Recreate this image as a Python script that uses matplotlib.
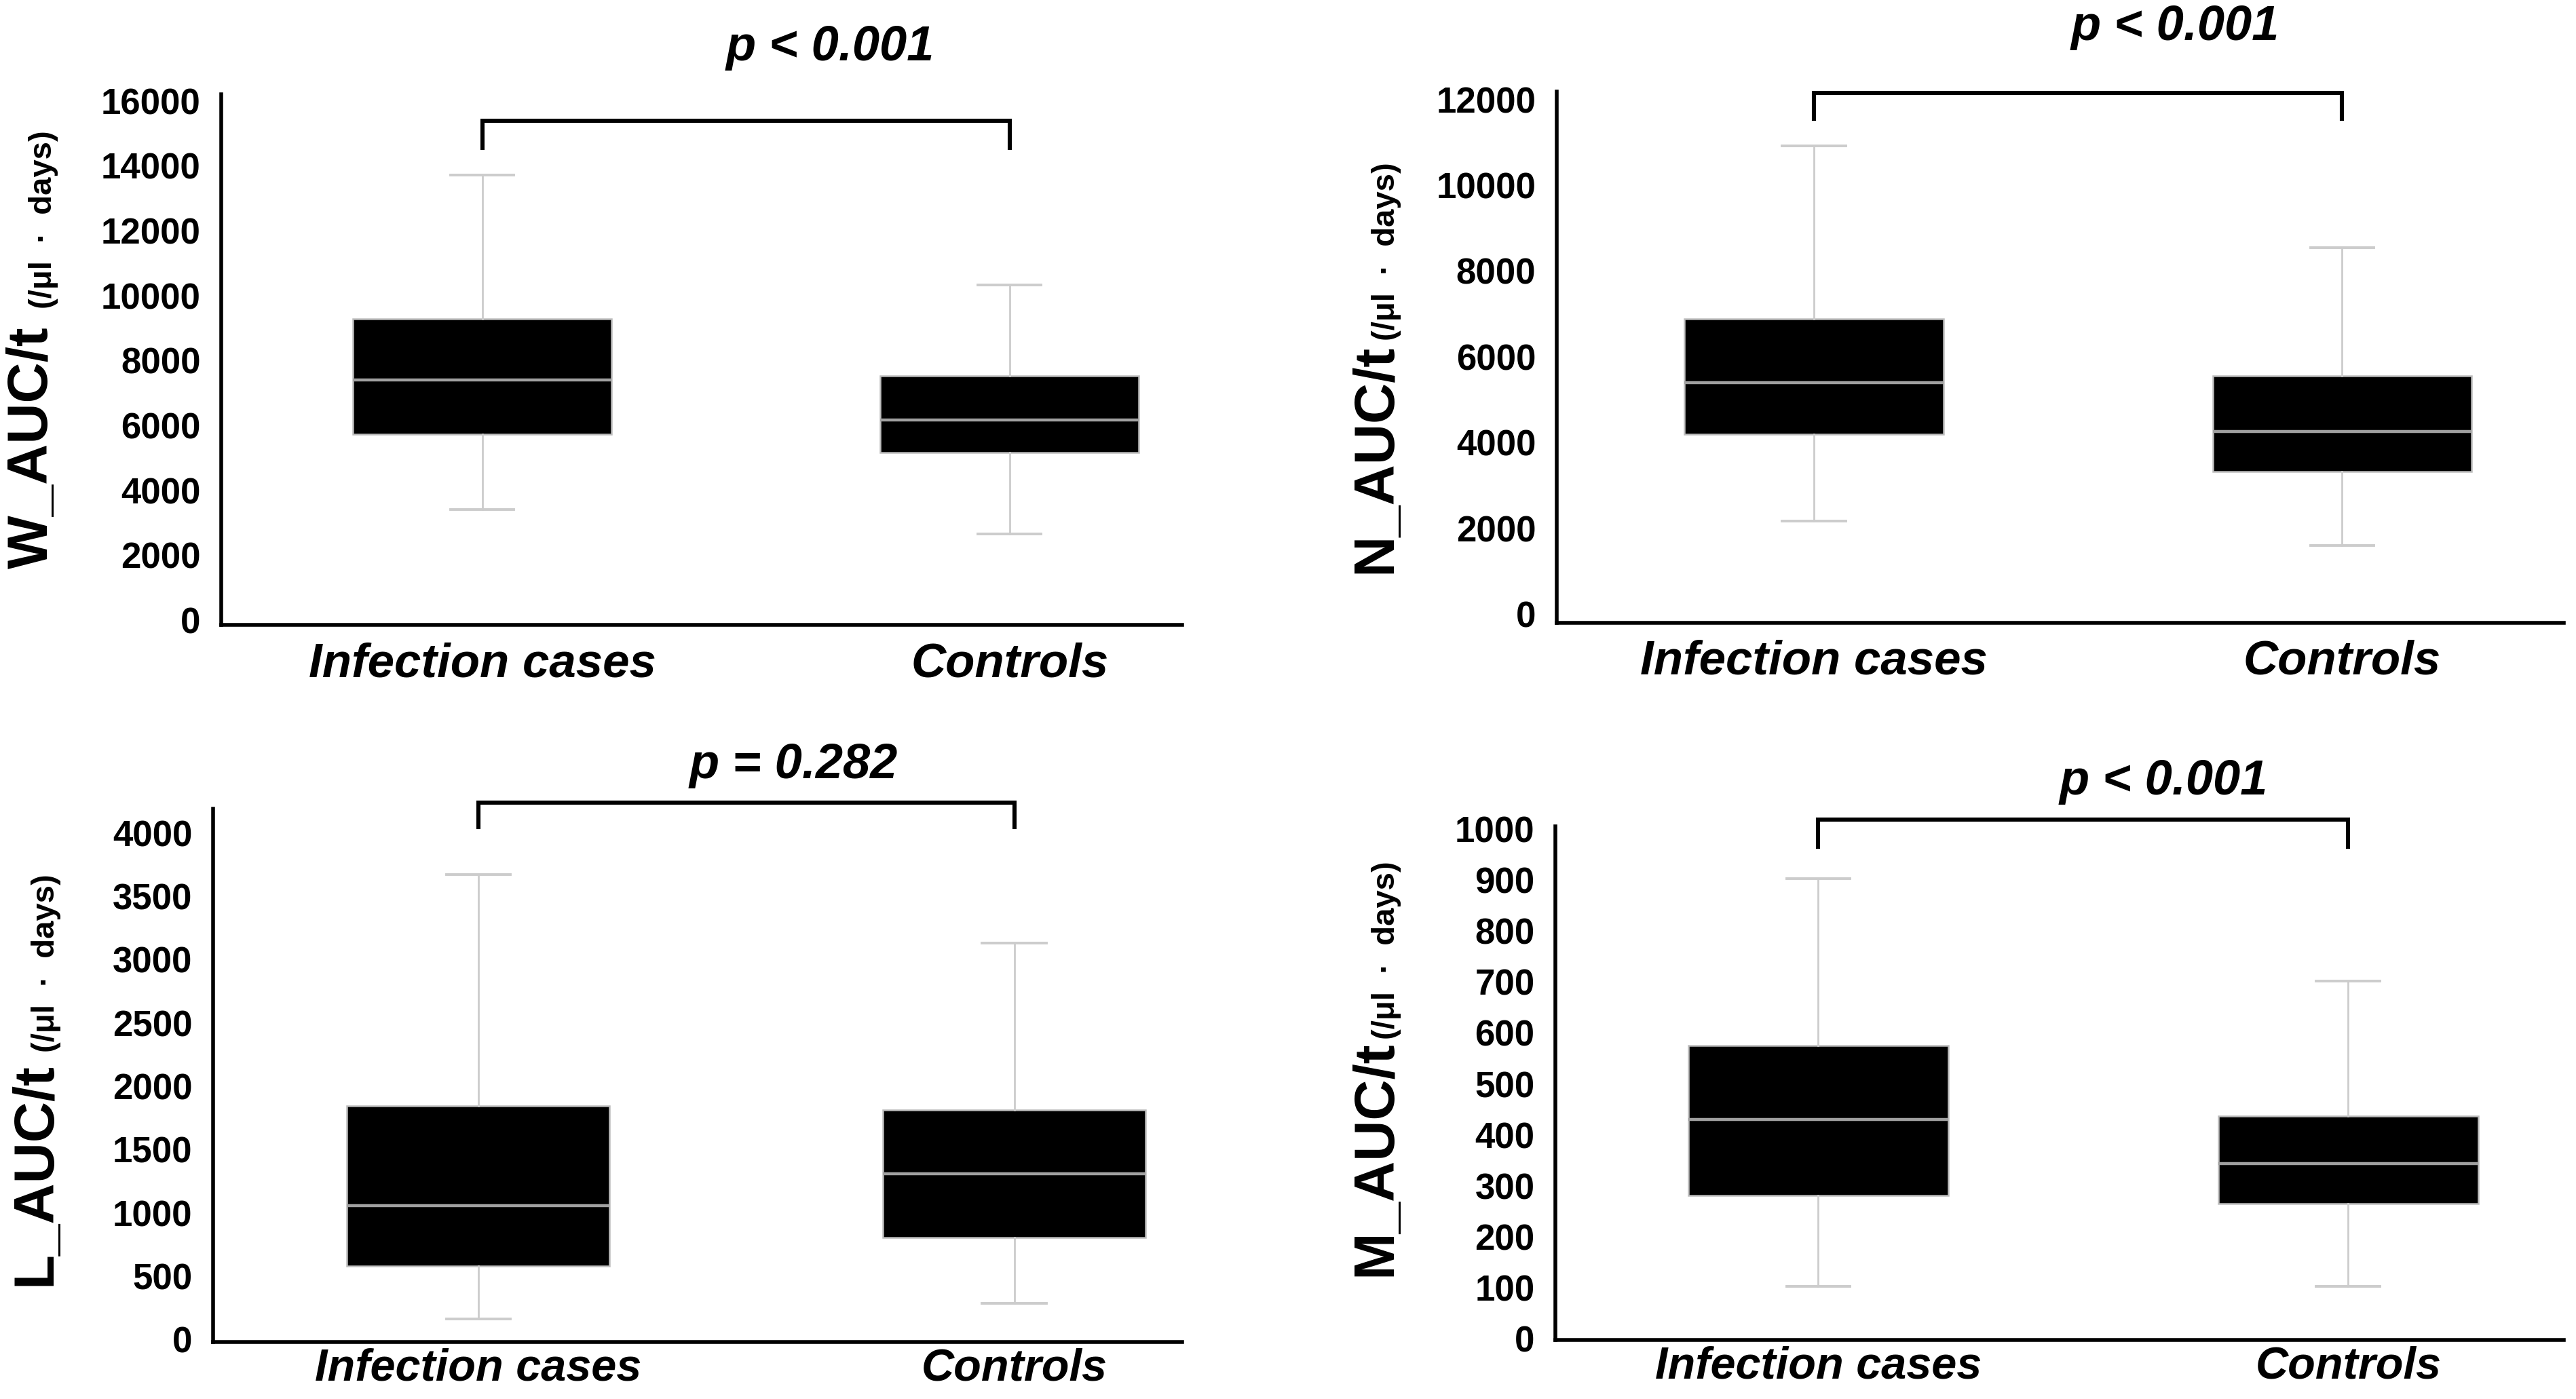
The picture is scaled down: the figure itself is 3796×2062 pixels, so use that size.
import matplotlib
matplotlib.use("Agg")
import matplotlib.pyplot as plt
import numpy as np

# ---------------- data ----------------
groups = ["Infection cases", "Controls"]

# [whislo, q1, median, q3, whishi]
W_inf = [3400, 5720, 7400, 9280, 13720]
W_ctl = [2650, 5170, 6170, 7520, 10330]
N_inf = [2160, 4190, 5390, 6890, 10920]
N_ctl = [1590, 3330, 4250, 5550, 8550]
L_inf = [165, 578, 1058, 1846, 3670]
L_ctl = [287, 806, 1310, 1814, 3128]
M_inf = [103, 281, 430, 575, 903]
M_ctl = [103, 265, 344, 437, 702]

W_ticks = list(range(0, 16001, 2000))
N_ticks = list(range(0, 12001, 2000))
L_ticks = list(range(0, 4001, 500))
M_ticks = list(range(0, 1001, 100))

p_labels = {"W": "p < 0.001", "N": "p < 0.001", "L": "p = 0.282", "M": "p < 0.001"}
# bracket [top, ends]
W_bracket = [15380, 14550]
N_bracket = [12150, 11550]
L_bracket = [4240, 4045]
M_bracket = [1018, 965]

# ---------------- layout ----------------
FW, FH = 3796, 2062
DPI = 200
fig = plt.figure(figsize=(FW / DPI, FH / DPI), dpi=DPI)
plt.rcParams['font.family'] = ['Liberation Sans', 'DejaVu Sans']


def px(x, y):
    return x / FW, 1 - y / FH


panels = [
    dict(key="W", name="W_AUC/t", inf=W_inf, ctl=W_ctl, ticks=W_ticks, br=W_bracket,
         rect=(0.0859, 0.5533, 0.4589 - 0.0859, 0.9326 - 0.5533),
         ylim=(-150, 16200), xlim=(0.505, 2.327), ptext=(1.66, 17240),
         lab=(70, 838), unit=(76, 455), xpad=9, xfs=25.5),
    dict(key="N", name="N_AUC/t", inf=N_inf, ctl=N_ctl, ticks=N_ticks, br=N_bracket,
         rect=(0.6043, 0.555, 0.9953 - 0.6043, 0.9344 - 0.555),
         ylim=(-200, 12180), xlim=(0.513, 2.42), ptext=(1.684, 13380),
         lab=(2049, 845), unit=(2055, 502), xpad=9, xfs=25.5),
    dict(key="L", name="L_AUC/t", inf=L_inf, ctl=L_ctl, ticks=L_ticks, br=L_bracket,
         rect=(0.0827, 0.0407, 0.4589 - 0.0827, 0.4219 - 0.0407),
         ylim=(-20, 4190), xlim=(0.505, 2.313), ptext=(1.588, 4433),
         lab=(74, 1895), unit=(80, 1551), xpad=3, xfs=24),
    dict(key="M", name="M_AUC/t", inf=M_inf, ctl=M_ctl, ticks=M_ticks, br=M_bracket,
         rect=(0.6038, 0.0422, 0.9953 - 0.6038, 0.4093 - 0.0422),
         ylim=(-2, 1005), xlim=(0.504, 2.407), ptext=(1.651, 1068),
         lab=(2049, 1881), unit=(2055, 1532), xpad=3, xfs=24),
]

for p in panels:
    ax = fig.add_axes(p["rect"])
    stats = []
    for lab, v in zip(groups, [p["inf"], p["ctl"]]):
        stats.append(dict(label=lab, whislo=v[0], q1=v[1], med=v[2], q3=v[3], whishi=v[4], fliers=[]))
    ax.bxp(stats, positions=[1, 2], widths=0.49, capwidths=0.12, patch_artist=True,
           showfliers=False,
           boxprops=dict(facecolor="black", edgecolor="#bdbdbd", linewidth=0.9),
           medianprops=dict(color="#a0a0a0", linewidth=1.6),
           whiskerprops=dict(color="#cccccc", linewidth=1.0),
           capprops=dict(color="#cccccc", linewidth=1.4))
    ax.set_xlim(*p["xlim"])
    ax.set_ylim(*p["ylim"])
    ax.set_yticks(p["ticks"])
    ax.set_yticklabels([str(t) for t in p["ticks"]])
    for s in ["top", "right"]:
        ax.spines[s].set_visible(False)
    for s in ["left", "bottom"]:
        ax.spines[s].set_linewidth(2.0)
        ax.spines[s].set_color("black")
    ax.tick_params(axis="y", length=0, pad=11, labelsize=19)
    ax.tick_params(axis="x", length=0, pad=p["xpad"], labelsize=p["xfs"])
    for t in ax.get_yticklabels():
        t.set_fontweight("bold")
    for t in ax.get_xticklabels():
        t.set_fontweight("bold")
        t.set_fontstyle("italic")
    # bracket
    top, end = p["br"]
    ax.plot([1, 1, 2, 2], [end, top, top, end], color="black", lw=2.2,
            clip_on=False, solid_joinstyle="miter")
    ax.text(p["ptext"][0], p["ptext"][1], p_labels[p["key"]], ha="center", va="baseline",
            fontsize=26, fontweight="bold", fontstyle="italic", clip_on=False)
    # y labels
    x, y = px(*p["lab"])
    fig.text(x, y, p["name"], rotation=90, rotation_mode="anchor", ha="left", va="baseline",
             fontsize=30, fontweight="bold")
    x, y = px(*p["unit"])
    fig.text(x, y, "(/μl  ·  days)", rotation=90, rotation_mode="anchor", ha="left", va="baseline",
             fontsize=17, fontweight="bold")

fig.savefig("out.png", dpi=DPI, facecolor="white")
